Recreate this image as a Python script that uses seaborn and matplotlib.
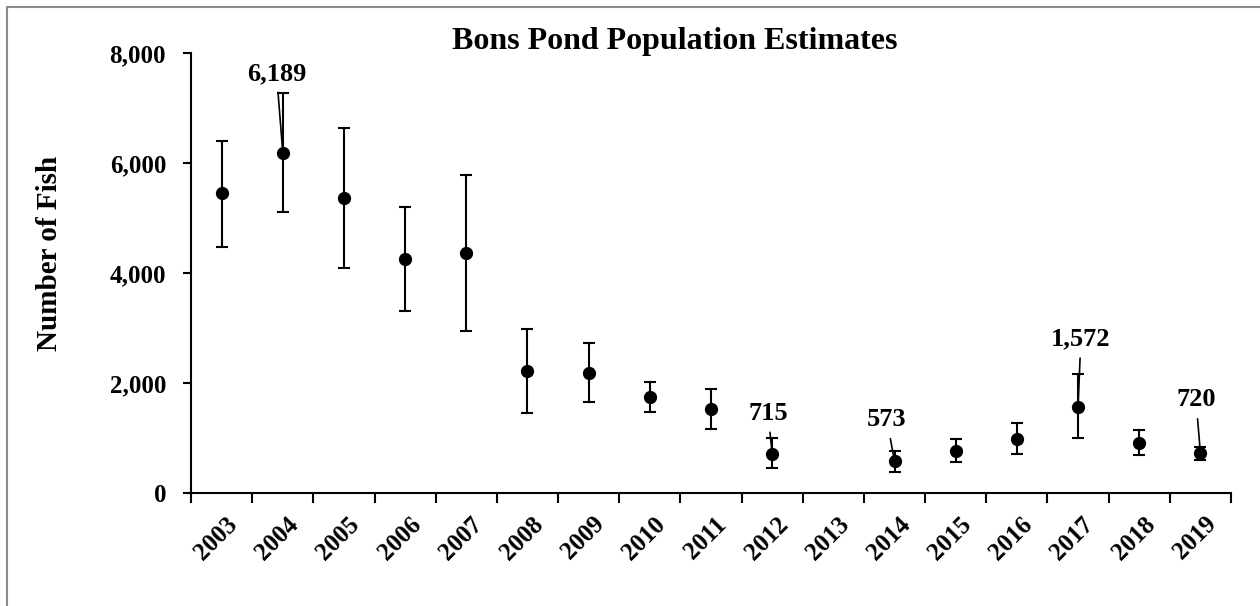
import matplotlib
matplotlib.use("Agg")
import matplotlib.pyplot as plt
import matplotlib.transforms as mtransforms
from matplotlib.lines import Line2D
from matplotlib.ticker import StrMethodFormatter
import numpy as np
import pandas as pd
import seaborn as sns

sns.set_theme(style="white")
plt.rcParams['font.family'] = ['Liberation Serif', 'DejaVu Serif']
plt.rcParams['font.weight'] = 'bold'
plt.rcParams['text.color'] = 'black'
plt.rcParams['xtick.color'] = 'black'
plt.rcParams['ytick.color'] = 'black'

# axis categories (2013 has no estimate)
categories = ['2003', '2004', '2005', '2006', '2007', '2008', '2009', '2010', '2011',
              '2012', '2013', '2014', '2015', '2016', '2017', '2018', '2019']

years = ['2003', '2004', '2005', '2006', '2007', '2008', '2009', '2010', '2011',
         '2012', '2014', '2015', '2016', '2017', '2018', '2019']
estimate = [5450, 6189, 5360, 4255, 4370, 2220, 2185, 1750, 1520,
            715, 573, 770, 980, 1572, 915, 720]
lower = [4480, 5115, 4100, 3310, 2950, 1460, 1650, 1470, 1160,
         450, 390, 560, 700, 1000, 690, 605]
upper = [6405, 7267, 6636, 5200, 5787, 2976, 2721, 2013, 1885,
         994, 764, 988, 1267, 2164, 1145, 842]

labelled = ['2004', '2012', '2014', '2017', '2019']

df = pd.DataFrame({'year': years, 'fish': estimate, 'lo': lower, 'hi': upper})
df['pos'] = [categories.index(y) for y in df['year']]

fig = plt.figure(figsize=(12.6, 6.06), dpi=100)
ax = fig.add_axes([0.1516, 0.1865, 0.8254, 0.726])

ax.errorbar(df['pos'], df['fish'], yerr=[df['fish'] - df['lo'], df['hi'] - df['fish']],
            fmt='none', ecolor='black', elinewidth=1.5, capsize=4, capthick=1.5, zorder=2)
sns.pointplot(data=df, x='year', y='fish', order=categories, color='black',
              linestyle='none', errorbar=None, markersize=7.5, ax=ax, zorder=3)

# value labels with leader lines
offsets = {'2004': (-4.5, 57), '2012': (-3, 29), '2014': (-5.5, 30),
           '2017': (2, 48.5), '2019': (-3.2, 38.5)}
for yr in labelled:
    row = df[df['year'] == yr].iloc[0]
    ax.annotate(f"{int(row['fish']):,}", xy=(row['pos'], row['fish']),
                xytext=offsets[yr], textcoords='offset points',
                ha='center', va='center', fontsize=19, fontweight='bold', color='black',
                arrowprops=dict(arrowstyle='-', color='black', lw=1.2,
                                shrinkA=3, shrinkB=2))

ax.set_xlim(-0.5, len(categories) - 0.5)
ax.set_ylim(0, 8000)
ax.set_xlabel('')
ax.set_ylabel('')

ax.set_yticks(range(0, 8001, 2000))
ax.yaxis.set_major_formatter(StrMethodFormatter('{x:,.0f}'))
ax.tick_params(axis='y', left=True, length=6, width=1.5, pad=12, labelsize=18,
               color='black', labelcolor='black')

ax.set_xticks(np.arange(-0.5, len(categories)), labels=[''] * (len(categories) + 1))
ax.set_xticks(np.arange(len(categories)), labels=categories, minor=True)
ax.tick_params(axis='x', which='major', bottom=True, length=7, width=1.5, color='black')
ax.tick_params(axis='x', which='minor', bottom=True, length=0, pad=14, labelsize=18,
               labelcolor='black')
shift = mtransforms.ScaledTranslation(4 / 100, 0, fig.dpi_scale_trans)
for lbl in ax.get_xticklabels(minor=True):
    lbl.set_rotation(45)
    lbl.set_ha('right')
    lbl.set_va('top')
    lbl.set_rotation_mode('anchor')
    lbl.set_transform(lbl.get_transform() + shift)

for side in ['top', 'right']:
    ax.spines[side].set_visible(False)
for side in ['left', 'bottom']:
    ax.spines[side].set_color('black')
    ax.spines[side].set_linewidth(1.5)

fig.text(675 / 1260, 1 - 42 / 606, 'Bons Pond Population Estimates',
         ha='center', va='center', fontsize=23, fontweight='bold', color='black')
fig.text(50 / 1260, 1 - 253 / 606, 'Number of Fish', rotation=90,
         ha='center', va='center', fontsize=21, fontweight='bold', color='black')

# chart frame (left and top edges visible)
fig.add_artist(Line2D([7 / 1260, 7 / 1260], [0, 1 - 7 / 606], color='#8c8c8c', lw=1.5,
                      transform=fig.transFigure))
fig.add_artist(Line2D([7 / 1260, 1], [1 - 7 / 606, 1 - 7 / 606], color='#8c8c8c', lw=1.5,
                      transform=fig.transFigure))

fig.savefig('out.png', dpi=100)
